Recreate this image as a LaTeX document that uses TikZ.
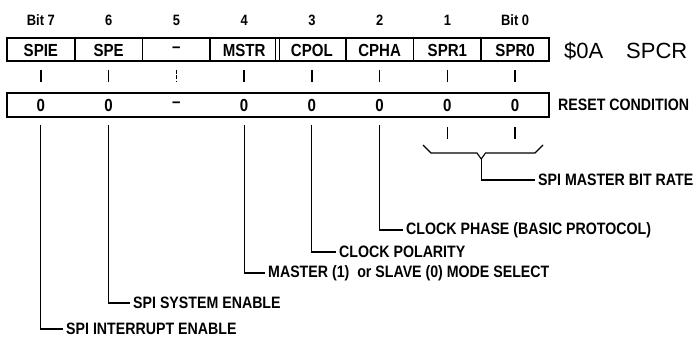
\documentclass[tikz,border=0pt]{standalone}
\usepackage{fontspec}
\setmainfont{Liberation Sans}
\newfontfamily\lblfont{Liberation Sans}[FakeStretch=0.86]
\begin{document}
\begin{tikzpicture}[x=1pt,y=-1pt,
  lbl/.style={font=\lblfont\bfseries\fontsize{16.5}{18}\selectfont, inner sep=3pt},
  cell/.style={font=\lblfont\bfseries\fontsize{17.5}{19}\selectfont, inner sep=3pt},
  bitno/.style={font=\lblfont\bfseries\fontsize{15}{17}\selectfont},
  big/.style={font=\fontsize{22}{24}\selectfont, inner sep=0pt, anchor=west},
  leader/.style={line width=1.1pt},
  tick/.style={line width=1.3pt},
  frame/.style={line width=1.7pt},
  rframe/.style={line width=1.1pt}]

\fill[white] (0,0) rectangle (697,339);
\useasboundingbox (0,0) rectangle (697,339);

% register frame
\draw[frame] (7,38) rectangle (549,61);
\foreach \bx in {74.75,142.5,210.25,275.5,345.75,413.5,481.25}
  \draw[frame] (\bx,38) -- (\bx,61);
\draw[frame] (279.5,38) -- (279.5,61);

% reset frame
\draw[rframe] (7,93) rectangle (549,117);

\foreach \p/\t/\b/\r in {0/SPIE/Bit 7/0,1/SPE/6/0,2/\textendash/5/\textendash,3/MSTR/4/0,4/CPOL/3/0,5/CPHA/2/0,6/SPR1/1/0,7/SPR0/Bit 0/0}{
  \pgfmathsetmacro\xc{40.875+67.75*\p}
  \node[bitno] (b\p) at (\xc,20) {\b};
  \node[cell] (c\p) at (\xc,50) {\t};
  \node[cell] (r\p) at (\xc,105) {\r};
  \coordinate (d\p) at (\xc,125);
}
\foreach \p in {0,1,3,4,5,6,7}{
  \pgfmathsetmacro\xc{40.875+67.75*\p}
  \draw[tick] (\xc,70) -- (\xc,82);
}
\draw[tick, dash pattern=on 4pt off 1.5pt] (176.375,70) -- (176.375,82);

\node[big] (addr) at (564,51) {\$0A};
\node[big] (rname) at (626,51) {SPCR};
\node[lbl, anchor=west] (reset) at (555,105) {RESET CONDITION};

% lower ticks for SPR1, SPR0
\draw[tick] (447.375,127) -- (447.375,139);
\draw[tick] (515.125,127) -- (515.125,139);

% brace
\draw[leader] (423,145) -- (431,153) -- (477,153) -- (481.25,159) -- (485.5,153) -- (535,153) -- (543,145);
\coordinate (tip) at (481.25,159);

% labels
\node[lbl,anchor=west] (lrate) at (535,180) {SPI MASTER BIT RATE};
\node[lbl,anchor=west] (lcpha) at (403,230) {CLOCK PHASE (BASIC PROTOCOL)};
\node[lbl,anchor=west] (lcpol) at (336,252) {CLOCK POLARITY};
\node[lbl,anchor=west] (lmstr) at (265,273) {MASTER (1)\ \ or SLAVE (0) MODE SELECT};
\node[lbl,anchor=west] (lspe) at (130,303) {SPI SYSTEM ENABLE};
\node[lbl,anchor=west] (lspie) at (63,329) {SPI INTERRUPT ENABLE};

% leaders
\draw[leader] (tip) |- (lrate.west);
\draw[leader] (d5) |- (lcpha.west);
\draw[leader] (d4) |- (lcpol.west);
\draw[leader] (d3) |- (lmstr.west);
\draw[leader] (d1) |- (lspe.west);
\draw[leader] (d0) |- (lspie.west);
\end{tikzpicture}
\end{document}
